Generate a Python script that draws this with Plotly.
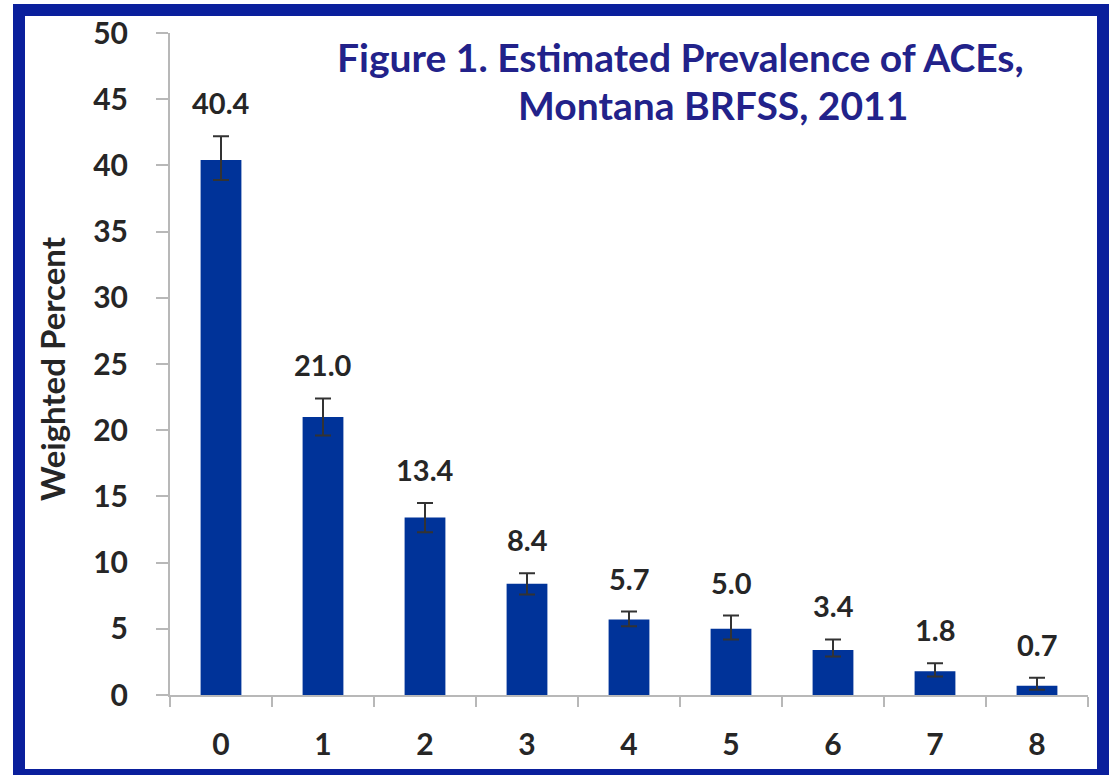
import plotly.graph_objects as go

categories = ["0", "1", "2", "3", "4", "5", "6", "7", "8"]
values = [40.4, 21.0, 13.4, 8.4, 5.7, 5.0, 3.4, 1.8, 0.7]
err_up = [1.8, 1.4, 1.1, 0.8, 0.6, 1.0, 0.8, 0.6, 0.6]
err_down = [1.5, 1.4, 1.1, 0.8, 0.5, 0.8, 0.5, 0.4, 0.3]
value_labels = ["40.4", "21.0", "13.4", "8.4", "5.7", "5.0", "3.4", "1.8", "0.7"]
y_ticks = [0, 5, 10, 15, 20, 25, 30, 35, 40, 45, 50]

W, H = 1109, 775
L, R, T, B = 170, 21, 33, 80
pw, ph = W - L - R, H - T - B

def px_x(p):
    return (p - L) / pw

def px_y(p):
    return (H - B - p) / ph

FONT = "Lato, 'Open Sans', sans-serif"
TXT = "#262626"
TITLE_C = "#22228a"

fig = go.Figure()
fig.add_trace(go.Bar(
    x=categories, y=values, width=0.4,
    marker=dict(color="#003399", line=dict(width=0)),
    error_y=dict(type="data", array=err_up, arrayminus=err_down,
                 color="#333333", thickness=2, width=8),
    hoverinfo="skip",
))

annotations = []
for c, v, u, t in zip(categories, values, err_up, value_labels):
    annotations.append(dict(x=c, y=v + u, xref="x", yref="y", text="<b>" + t + "</b>",
                            showarrow=False, yanchor="bottom", yshift=14,
                            font=dict(family=FONT, size=29, color=TXT)))

annotations.append(dict(x=px_x(52), y=px_y(369), xref="paper", yref="paper",
                        text="<b>Weighted Percent</b>", textangle=-90,
                        showarrow=False, xanchor="center", yanchor="middle",
                        font=dict(family=FONT, size=33, color=TXT)))
annotations.append(dict(x=px_x(680), y=px_y(57), xref="paper", yref="paper",
                        text="<b>Figure 1. Estimated Prevalence of ACEs,</b>",
                        showarrow=False, xanchor="center", yanchor="middle",
                        font=dict(family=FONT, size=39, color=TITLE_C)))
annotations.append(dict(x=px_x(713), y=px_y(105), xref="paper", yref="paper",
                        text="<b>Montana BRFSS, 2011</b>",
                        showarrow=False, xanchor="center", yanchor="middle",
                        font=dict(family=FONT, size=39, color=TITLE_C)))

fig.update_layout(
    width=W, height=H,
    margin=dict(l=L, r=R, t=T, b=B, pad=0),
    paper_bgcolor="white", plot_bgcolor="white",
    showlegend=False,
    annotations=annotations,
    shapes=[dict(type="rect", xref="paper", yref="paper",
                 x0=px_x(19), x1=px_x(1103), y0=px_y(775), y1=px_y(10),
                 line=dict(color="#0a1f9c", width=12), fillcolor="rgba(0,0,0,0)",
                 layer="above")],
    xaxis=dict(type="category", showgrid=False, zeroline=False,
               showline=True, linecolor="#b8b8b8", linewidth=2,
               ticks="outside", tickson="boundaries", ticklen=10,
               tickcolor="#b8b8b8", tickwidth=2, ticklabelstandoff=22,
               tickfont=dict(family=FONT, size=30, color=TXT, weight="bold")),
    yaxis=dict(range=[0, 50], tickvals=y_ticks, showgrid=False, zeroline=False,
               showline=True, linecolor="#b8b8b8", linewidth=2,
               ticks="outside", ticklen=12, tickcolor="#b8b8b8", tickwidth=2,
               ticklabelstandoff=22,
               tickfont=dict(family=FONT, size=30, color=TXT, weight="bold")),
)

fig.write_html("out.html",
               config={"displayModeBar": False},
               post_script="document.body.style.margin='0';document.body.style.overflow='hidden';")
